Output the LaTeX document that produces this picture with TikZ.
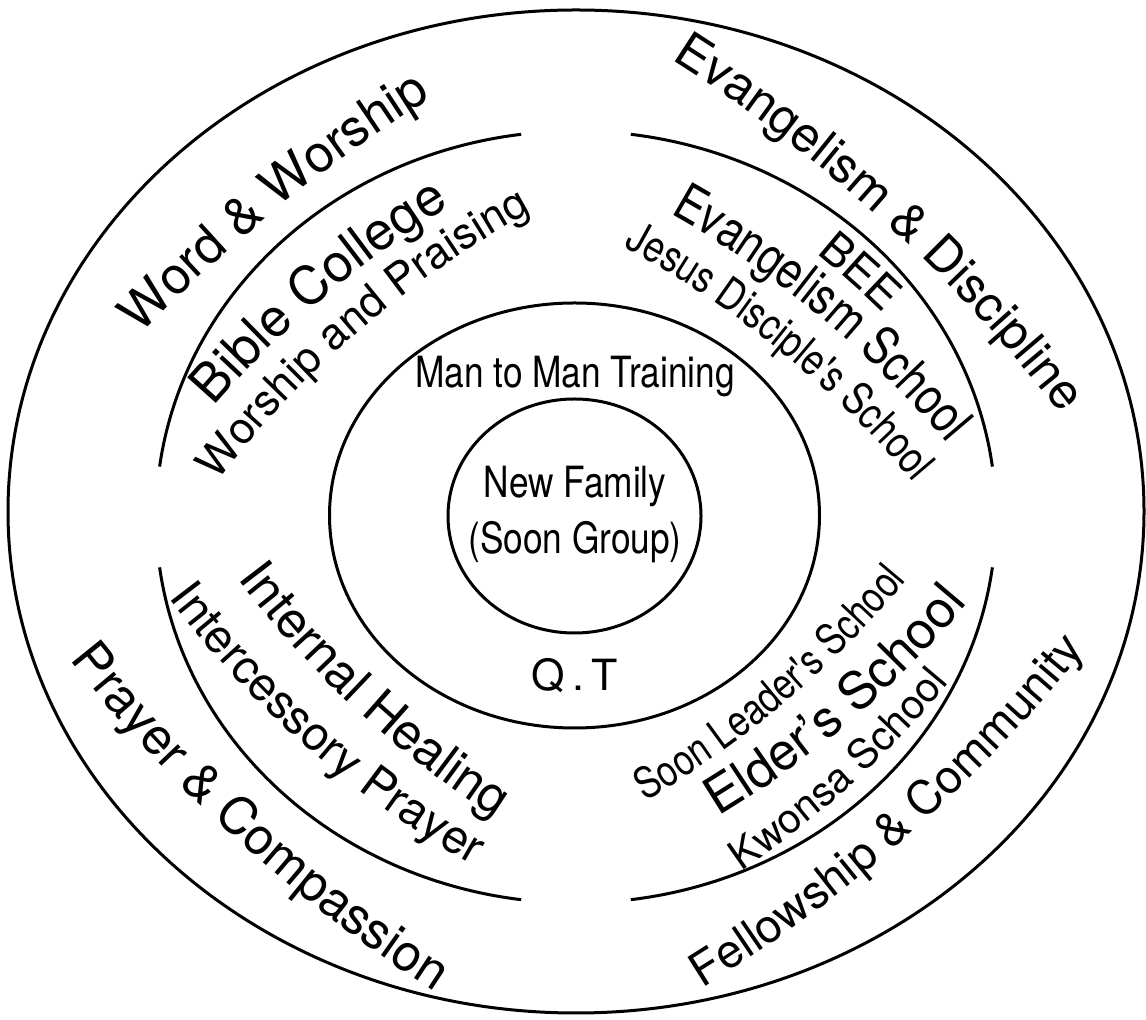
\documentclass[tikz,border=0pt]{standalone}
\usepackage{fontspec}
\setmainfont{TeX Gyre Heros}
\newfontfamily\narrowfont[FakeStretch=0.82]{TeX Gyre Heros}
\usetikzlibrary{decorations.text}

\newcommand{\fsz}[1]{\fontsize{#1}{#1}\selectfont}
% curved labels: baseline centre, angle of the letter tops, radius, font, text
\newcommand{\toplabel}[5]{%
  \path[decorate, decoration={text along path, text align=center, text={|#4|#5}}]
    (#1) ++({#2+180}:#3) ++({#2+20}:#3) arc[start angle={#2+20}, end angle={#2-20}, radius=#3];}
\newcommand{\botlabel}[5]{%
  \path[decorate, decoration={text along path, text align=center, text={|#4|#5}}]
    (#1) ++({#2}:#3) ++({#2+160}:#3) arc[start angle={#2+160}, end angle={#2+200}, radius=#3];}

\begin{document}
\begin{tikzpicture}[x=1pt, y=1pt, ring/.style={line width=3pt}]
    \useasboundingbox (0,0) rectangle (1146,1020);
    \coordinate (mid) at (576,503);

    % rings
    \draw[ring] (576,508.5) ellipse [x radius=568, y radius=501.5];
    \foreach \a in {7.5,97.5,187.5,277.5}
        \draw[ring] (mid) ++(\a:420 and 386) arc[start angle=\a, end angle=\a+75, x radius=420, y radius=386];
    \draw[ring] (574.5,504.5) ellipse [x radius=245, y radius=212.5];
    \draw[ring] (574.5,504) ellipse [x radius=126.5, y radius=117];

    % centre
    \node[font=\narrowfont\fsz{43}] (train) at (575,643) {Man to Man Training};
    \node[font=\narrowfont\fontsize{43}{56}\selectfont, align=center] (family) at (575,505) {New Family\\(Soon Group)};
    \node[font=\fsz{43}] (qt) at (575,344) {Q\,.\,T};

    % outer band
    \toplabel{278.8,812.9}{129.2}{1500}{\fsz{51.6}}{Word {\&} Worship}
    \toplabel{881.9,800.1}{47.7}{1500}{\fsz{49.6}}{Evangelism {\&} Discipline}
    \botlabel{238.5,179.1}{47.7}{1500}{\fsz{51}}{Prayer {\&} Compassion}
    \botlabel{908.3,184.6}{131.5}{1500}{\fsz{46.6}}{Fellowship {\&} Community}

    % middle band
    \toplabel{324.1,722.8}{130.3}{1000}{\fsz{52.7}}{Bible College}
    \toplabel{360.3,690}{130.6}{1000}{\fsz{43.9}}{Worship and Praising}
    \toplabel{850.4,737.2}{48.2}{1000}{\fsz{45}}{BEE}
    \toplabel{819.5,703.9}{50.4}{1000}{\narrowfont\fsz{52}}{Evangelism School}
    \toplabel{779.9,669.3}{50.9}{1000}{\narrowfont\fsz{44}}{Jesus Disciple's School}
    \botlabel{356.1,310.4}{47.2}{1000}{\fsz{50.7}}{Internal Healing}
    \botlabel{307,272.7}{48.7}{1000}{\fsz{47.1}}{Intercessory Prayer}
    \botlabel{785.6,318}{130.2}{1000}{\narrowfont\fsz{43}}{Soon Leader's School}
    \botlabel{851.8,299.9}{130.6}{1000}{\fsz{51.6}}{Elder's School}
    \botlabel{852.1,235.8}{132.2}{1000}{\fsz{40.8}}{Kwonsa School}
\end{tikzpicture}
\end{document}
